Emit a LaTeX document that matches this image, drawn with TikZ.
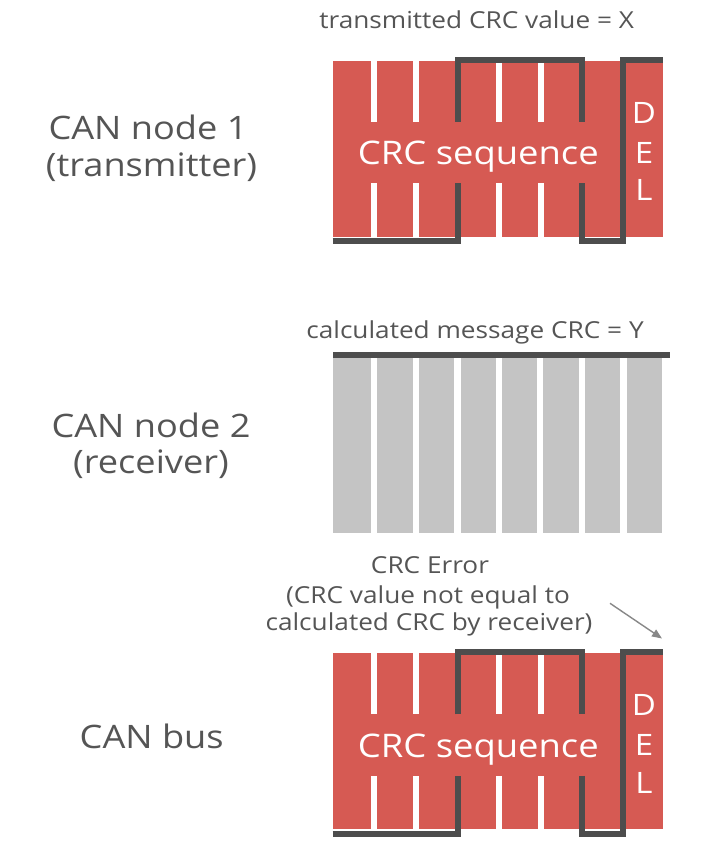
\documentclass[tikz,border=0pt]{standalone}
\usepackage{fontspec}
\setmainfont{Open Sans}[FakeStretch=1.12]
\usetikzlibrary{arrows.meta}
\definecolor{crcred}{RGB}{214,90,83}
\definecolor{sig}{RGB}{77,77,77}
\definecolor{txt}{RGB}{85,85,85}
\definecolor{bitgray}{RGB}{196,196,196}
\definecolor{arrgray}{RGB}{136,136,136}
\tikzset{
  lbl/.style={text=txt, font=\fontsize{32.3}{32.3}\selectfont, anchor=base, inner sep=0pt},
  captxt/.style={text=txt, font=\fontsize{23.4}{23.4}\selectfont, anchor=base, inner sep=0pt},
  wtxt/.style={text=white, font=\fontsize{32.5}{32.5}\selectfont, anchor=base, inner sep=0pt},
  deltxt/.style={text=white, font=\fontsize{29.5}{29.5}\selectfont, anchor=base, inner sep=0pt},
  signal/.style={draw=sig, line width=6pt, line join=miter},
  crcblock/.pic={
    \fill[crcred] (332.7,60.7) rectangle (662.7,236.7);
    \foreach \g in {374,416,457.5,499,540.5,582}{
      \fill[white] (\g-3,60.7) rectangle (\g+3,121.7);
      \fill[white] (\g-3,183.3) rectangle (\g+3,236.7);
    }
    \fill[white] (620,60.7) rectangle (626,236.7);
    \draw[signal] (332.7,241) -- (458,241) -- (458,183.3);
    \draw[signal] (458,121.7) -- (458,59.7) -- (582,59.7) -- (582,121.7);
    \draw[signal] (582,183.3) -- (582,241) -- (623,241) -- (623,59.7) -- (663.3,59.7);
    \node[wtxt] (-seq) at (478.3,165) {CRC sequence};
    \node[deltxt] (-d) at (644,123.3) {D};
    \node[deltxt] (-e) at (644,163.3) {E};
    \node[deltxt] (-l) at (644,200.5) {L};
  }
}
\begin{document}
\begin{tikzpicture}[x=1pt,y=-1pt]
  \fill[white] (0,0) rectangle (703,858);
  \useasboundingbox (0,0) rectangle (703,858);

  % top: transmitter
  \node[captxt] (tx) at (476.7,28.3) {transmitted CRC value = X};
  \pic (top) at (0,0) {crcblock};
  \node[lbl] (n1a) at (148,140) {CAN node 1};
  \node[lbl] (n1b) at (151.5,177) {(transmitter)};

  % middle: receiver
  \node[captxt] (calc) at (475,338.3) {calculated message CRC = Y};
  \fill[sig] (333.3,351.7) rectangle (670,358.3);
  \foreach \a/\b in {332.7/371, 377.3/412.7, 419/454.3, 460.7/496, 502/537.3, 543.3/579, 585/620, 626.7/662}
    \fill[bitgray] (\a,358.3) rectangle (\b,532.7);
  \node[lbl] (n2a) at (151,437) {CAN node 2};
  \node[lbl] (n2b) at (151,473.5) {(receiver)};

  % bottom: bus
  \node[captxt] (err1) at (430,573.3) {CRC Error};
  \node[captxt] (err2) at (428,603) {(CRC value not equal to};
  \node[captxt] (err3) at (429,630.5) {calculated CRC by receiver)};
  \pic (bot) at (0,592.6) {crcblock};
  \node[lbl] (bus) at (151.7,748) {CAN bus};

  \coordinate (as) at (610,603.3);
  \coordinate (ae) at (662,638.5);
  \draw[arrgray, line width=1.4pt, -{Triangle[length=10pt,width=8pt]}] (as) -- (ae);
\end{tikzpicture}
\end{document}
